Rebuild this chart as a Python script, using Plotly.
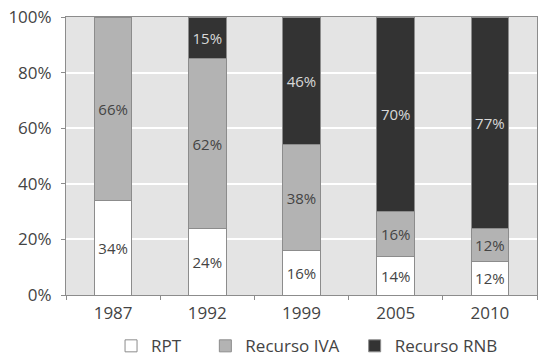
import plotly.graph_objects as go

years = ["1987", "1992", "1999", "2005", "2010"]
rpt = [34, 24, 16, 14, 12]
iva = [66, 62, 38, 16, 12]
rnb = [0, 15, 46, 70, 77]

series_names = ["RPT", "Recurso IVA", "Recurso RNB"]
fill_colors = ["#ffffff", "#b3b3b3", "#333333"]
text_colors = ["#444444", "#444444", "#d8d8d8"]
legend_ids = ["legend", "legend2", "legend3"]
legend_x = [0.206, 0.381, 0.658]
y_ticks = [0, 20, 40, 60, 80, 100]

font_family = "Open Sans, Noto Sans, sans-serif"

fig = go.Figure()
for name, vals, fc, tc, lg in zip(series_names, [rpt, iva, rnb], fill_colors, text_colors, legend_ids):
    fig.add_trace(go.Bar(
        x=years,
        y=vals,
        name=name,
        legend=lg,
        marker=dict(color=fc, line=dict(color="#8c8c8c", width=1)),
        text=[f"{v}%" if v else "" for v in vals],
        textposition="inside",
        insidetextanchor="middle",
        constraintext="none",
        textfont=dict(color=tc, size=15, family=font_family),
        hoverinfo="skip",
    ))

legend_style = dict(
    orientation="h",
    xanchor="left", xref="container",
    y=0.03, yanchor="middle", yref="container",
    font=dict(size=17, color="#444444"),
    itemwidth=30,
    bgcolor="rgba(0,0,0,0)",
)

fig.update_layout(
    barmode="stack",
    barnorm="percent",
    bargap=0.6,
    width=539,
    height=357,
    margin=dict(l=66, r=2, t=17, b=62),
    paper_bgcolor="white",
    plot_bgcolor="#e4e4e4",
    font=dict(family=font_family, color="#444444", size=17),
    showlegend=True,
    legend=dict(x=legend_x[0], **legend_style),
    legend2=dict(x=legend_x[1], **legend_style),
    legend3=dict(x=legend_x[2], **legend_style),
    xaxis=dict(
        showline=True, linecolor="#8c8c8c", linewidth=1,
        mirror=True,
        ticks="outside", ticklen=4, tickcolor="#8c8c8c",
        tickson="boundaries",
        ticklabelstandoff=3,
        showgrid=False,
        tickfont=dict(size=17, color="#444444"),
    ),
    yaxis=dict(
        range=[0, 100],
        tickvals=y_ticks,
        ticktext=[f"{v}%" for v in y_ticks],
        showline=True, linecolor="#8c8c8c", linewidth=1,
        mirror=True,
        ticks="outside", ticklen=4, tickcolor="#8c8c8c",
        ticklabelstandoff=6,
        showgrid=True, gridcolor="#ffffff", gridwidth=2,
        zeroline=False,
        tickfont=dict(size=17, color="#444444"),
    ),
)

fig.write_html("out.html")
